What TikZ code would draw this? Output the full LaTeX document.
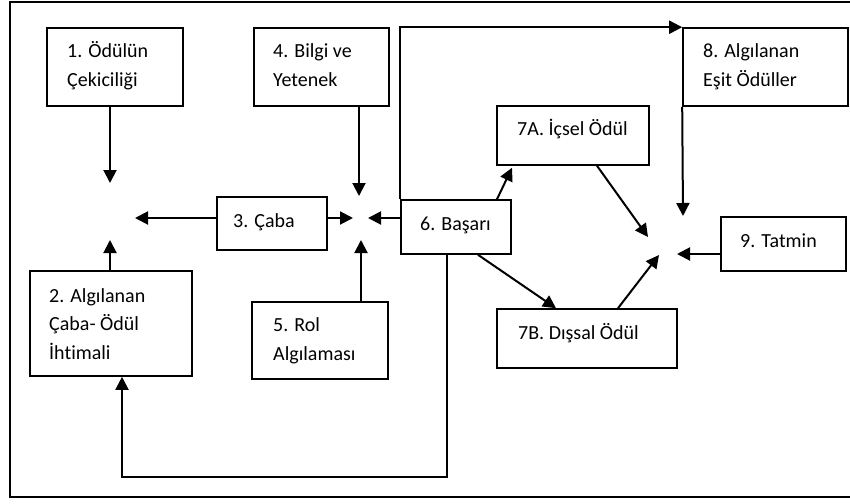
\documentclass[tikz,border=0pt]{standalone}
\usepackage{fontspec}
\setmainfont{Carlito}[Ligatures=NoCommon]
\usetikzlibrary{arrows.meta}
\begin{document}
\begin{tikzpicture}[x=1pt,y=-1pt,
  box/.style={draw, line width=1.6pt, rectangle, inner sep=0pt},
  lbl/.style={anchor=base west, inner sep=0pt, font=\fontsize{20}{24}\selectfont},
  arr/.style={line width=2pt, -{Triangle[width=13pt,length=13pt]}}]
\useasboundingbox (0,0) rectangle (850,503);
% outer frame
\draw[line width=2pt] (10,2) rectangle (856,497);

% boxes
\node[box, minimum width=136pt, minimum height=78pt]  (b1)  at (115,67)    {};
\node[box, minimum width=162pt, minimum height=105pt] (b2)  at (111,323.5) {};
\node[box, minimum width=110pt, minimum height=53pt]  (b3)  at (272,223.5) {};
\node[box, minimum width=135pt, minimum height=78pt]  (b4)  at (321.5,67)  {};
\node[box, minimum width=136pt, minimum height=77pt]  (b5)  at (320,340.5) {};
\node[box, minimum width=110pt, minimum height=54pt]  (b6)  at (456,227)   {};
\node[box, minimum width=152pt, minimum height=59pt]  (b7a) at (573,135.5) {};
\node[box, minimum width=180pt, minimum height=59pt]  (b7b) at (587,338.5) {};
\node[box, minimum width=165pt, minimum height=78pt]  (b8)  at (765.5,67)  {};
\node[box, minimum width=125pt, minimum height=54pt]  (b9)  at (783.5,244) {};

% box texts
\node[lbl] (t1a) at (67,57)  {1. Ödülün};
\node[lbl] (t1b) at (67,86)  {Çekiciliği};
\node[lbl] (t2a) at (49,302) {2. Algılanan};
\node[lbl] (t2b) at (49,330.5) {Çaba- Ödül};
\node[lbl] (t2c) at (49,359) {İhtimali};
\node[lbl] (t3)  at (233,227) {3. Çaba};
\node[lbl] (t4a) at (273,57) {4. Bilgi ve};
\node[lbl] (t4b) at (273,86) {Yetenek};
\node[lbl] (t5a) at (273,331) {5. Rol};
\node[lbl] (t5b) at (273,360) {Algılaması};
\node[lbl] (t6)  at (420,230) {6. Başarı};
\node[lbl] (t7a) at (517,135) {7A. İçsel Ödül};
\node[lbl] (t7b) at (518,339) {7B. Dışsal Ödül};
\node[lbl] (t8a) at (703,57) {8. Algılanan};
\node[lbl] (t8b) at (703,86) {Eşit Ödüller};
\node[lbl] (t9)  at (740,247) {9. Tatmin};

% free ends of the connectors
\coordinate (ja1) at (110,183);
\coordinate (ja2) at (135,218);
\coordinate (ja3) at (110,240);
\coordinate (jb1) at (359,196);
\coordinate (jb2) at (353,218);
\coordinate (jb3) at (368,218);
\coordinate (jb4) at (361,240);
\coordinate (jc1) at (683,216);
\coordinate (jc2) at (648,237);
\coordinate (jc3) at (677,254);
\coordinate (jc4) at (659,255);

% connectors
\draw[arr] (b1.south -| ja1) -- (ja1);
\draw[arr] (b2.north -| ja3) -- (ja3);
\draw[arr] (b3.west |- ja2) -- (ja2);
\draw[arr] (b3.east |- jb2) -- (jb2);
\draw[arr] (b4.south -| jb1) -- (jb1);
\draw[arr] (b5.north -| jb4) -- (jb4);
\draw[arr] (b6.west |- jb3) -- (jb3);
\draw[arr] (b6.north -| 497,0) -- ([yshift=-2pt]b7a.south -| 512,0);
\draw[arr] (b6.south -| 478,0) -- (b7b.north -| 556,0);
\draw[arr] (b7a.south -| 597,0) -- (jc2);
\draw[arr] (b7b.north -| 618,0) -- (jc4);
\draw[arr] (b8.south west) -- (jc1);
\draw[arr] (b9.west |- jc3) -- (jc3);
\draw[arr] (b6.north west) -- (b6.north west |- b8.north) -- (b8.north west);
\draw[arr] (b6.south -| 447,0) -- (447,477) -- (122,477) -- (b2.south -| 122,0);
\end{tikzpicture}
\end{document}
